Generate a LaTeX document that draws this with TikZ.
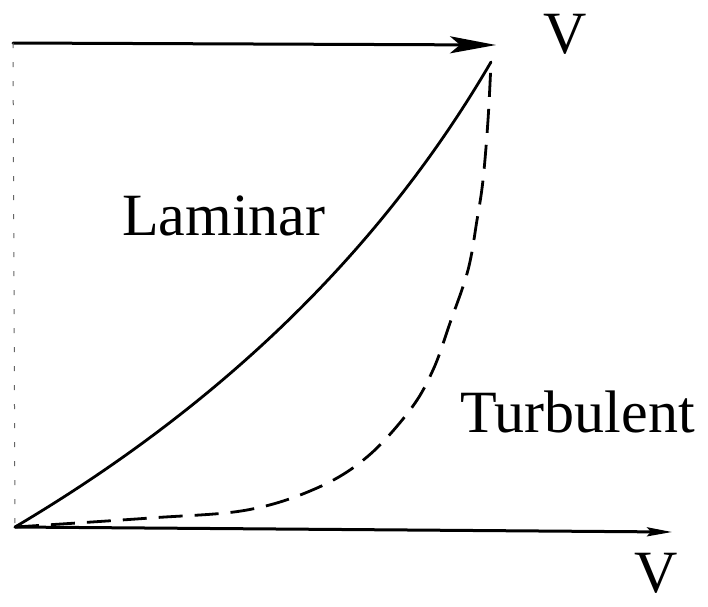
\documentclass[tikz,border=0pt]{standalone}
\usepackage{fontspec}
\setmainfont{Liberation Serif}
\usetikzlibrary{arrows.meta, positioning}

\begin{document}
\begin{tikzpicture}[
    x=1pt, y=-1pt,
    axis/.style={line width=3pt, line cap=round},
    wallline/.style={line width=1pt, black!60, dash pattern=on 5pt off 14pt},
    lamcurve/.style={line width=2.8pt, line cap=round},
    turbcurve/.style={line width=2.8pt, dash pattern=on 24pt off 12pt},
    lbl/.style={font=\rmfamily\fontsize{60}{60}\selectfont, inner sep=0pt}
]
\useasboundingbox (0,0) rectangle (708,606);

% Corner points of the profile
\coordinate (O) at (15,527);
\coordinate (wall) at (13,43);
\coordinate (tip) at (491,62);
\coordinate (topend) at (496,45);
\coordinate (botend) at (672,532);

% Axes and wall
\draw[axis, -{Stealth[length=46pt, width=17pt, inset=10pt]}] (wall) -- (topend);
\draw[axis, -{Stealth[length=25pt, width=9pt, inset=4pt]}] (O) -- (botend);
\draw[wallline] (wall) -- (O);

% Velocity profiles
\draw[lamcurve] (O) .. controls (226,402) and (383,247) .. (tip);
\draw[turbcurve] plot[smooth, tension=0.6] coordinates {(15,527) (150,518) (247,510) (317,488) (367,457) (410,410) (433,370) (450,323) (468,270) (477,220) (483,180) (488,120) (491,62)};

% Labels
\node[lbl, anchor=base] (vtop) at (565,53) {V};
\node[lbl, anchor=base] (vbot) at (656,592) {V};
\node[lbl, anchor=base west] (lam) at (122,235) {Laminar};
\node[lbl, anchor=base west] (turb) at (460,432) {Turbulent};

\end{tikzpicture}
\end{document}
